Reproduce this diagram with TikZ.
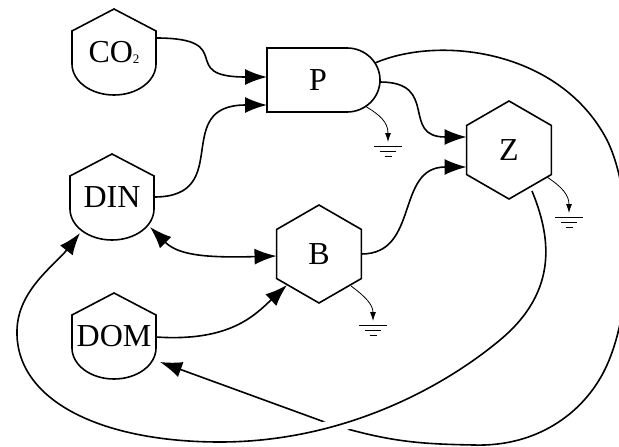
\documentclass[tikz,border=0pt]{standalone}
\usepackage{fontspec}
\setmainfont{Liberation Serif}
\usetikzlibrary{arrows.meta,shapes.geometric}
\tikzset{
  lbl/.style={font=\fontsize{32}{38}\selectfont},
  tanknode/.style={lbl, rectangle, minimum width=84pt, minimum height=86pt, inner sep=0pt, outer sep=0pt},
  prodnode/.style={lbl, rectangle, minimum width=102pt, minimum height=64pt, inner sep=0pt, outer sep=0pt},
  hexnode/.style={lbl, regular polygon, regular polygon sides=6, shape border rotate=30, minimum size=98pt, inner sep=0pt, outer sep=0pt, draw, line width=1.6pt},
  shapeline/.style={draw, line width=1.6pt, line join=miter},
  flow/.style={draw, line width=1.6pt, -{Latex[length=22pt,width=16pt]}},
  flowboth/.style={draw, line width=1.6pt, {Latex[length=22pt,width=16pt]}-{Latex[length=22pt,width=16pt]}},
  sinkflow/.style={draw, line width=0.8pt, -{Latex[length=9pt,width=6pt]}},
  gnd/.style={draw, line width=1pt},
}
\newcommand\tankoutline[1]{\draw[shapeline] ([yshift=43pt]#1.center) -- ++(-42,22) -- ++(0,33) arc[start angle=180,end angle=360,x radius=42pt,y radius=31pt] -- ++(0,-33) -- cycle;}
\newcommand\groundsym[1]{%
  \draw[gnd] ([xshift=-14pt,yshift=-4pt]#1) -- ++(28,0);
  \draw[gnd] ([xshift=-8pt,yshift=-9pt]#1) -- ++(16,0);
  \draw[gnd] ([xshift=-3.5pt,yshift=-14pt]#1) -- ++(7,0);}
\begin{document}
\begin{tikzpicture}[x=1pt,y=-1pt]
\useasboundingbox (0,0) rectangle (619,447);
% nodes
\node[tanknode] (co2) at (114,52) {CO\raisebox{-1pt}{\fontsize{13}{13}\selectfont 2}};
\node[tanknode] (din) at (112,197) {DIN};
\node[tanknode] (dom) at (114,336) {DOM};
\node[prodnode] (p) at (318,80) {P};
\node[hexnode] (z) at (509,150) {Z};
\node[hexnode] (b) at (319,254) {B};
\tankoutline{co2}
\tankoutline{din}
\tankoutline{dom}
\draw[shapeline] (p.north west) -- ++(80,0) arc[start angle=90,end angle=-90,x radius=33pt,y radius=32pt] -- (p.south west) -- cycle;
% sinks
\coordinate (sp) at (388,142);
\coordinate (sz) at (569,213);
\coordinate (sb) at (373,321);
% flows
\draw[flow] ([yshift=14pt]co2.east) .. controls (240,38) and (175,77) .. ([yshift=3pt]p.west);
\draw[flow] (din.east) .. controls (235,197) and (170,105) .. ([yshift=-25pt]p.west);
\draw[flow] ([shift={(62,2)}]p.center) .. controls (440,82) and (400,137) .. ([yshift=13pt]z.west);
\draw[flow] (b.east) .. controls (420,254) and (395,167) .. ([yshift=-17pt]z.west);
\draw[flowboth] ([shift={(38,30)}]din.center) .. controls (178,255) and (205,258) .. ([yshift=-2pt]b.west);
\draw[flow] ([yshift=-1pt]dom.east) .. controls (230,342) and (255,315) .. ([shift={(-32,31)}]b.center);
% P -> DOM (long loop)
\draw[flow] ([shift={(57,-17)}]p.center) .. controls (440,35) and (560,50) .. (607,140)
  .. controls (632,190) and (636,300) .. (607,365)
  .. controls (587,410) and (540,447) .. (474,445)
  .. controls (420,444) and (390,442) .. (330,424) -- ([shift={(46,26)}]dom.center);
% gap for crossing
\draw[white, line width=14pt] (500,340) .. controls (440,390) and (340,442) .. (220,442);
% Z -> DIN (long loop)
\draw[flow] ([shift={(23,41)}]z.center) .. controls (550,235) and (560,290) .. (500,340)
  .. controls (440,390) and (340,442) .. (220,442)
  .. controls (100,442) and (15,400) .. (17,330)
  .. controls (18,290) and (55,265) .. ([shift={(-32,36)}]din.center);
% heat sinks
\draw[sinkflow] ([shift={(47,26)}]p.center) .. controls (380,115) and (388,122) .. (sp);
\draw[sinkflow] ([shift={(38,27)}]z.center) .. controls (562,187) and (569,195) .. (sz);
\draw[sinkflow] ([shift={(32,32)}]b.center) .. controls (366,297) and (373,305) .. (sb);
\groundsym{sp}
\groundsym{sz}
\groundsym{sb}
\end{tikzpicture}
\end{document}
